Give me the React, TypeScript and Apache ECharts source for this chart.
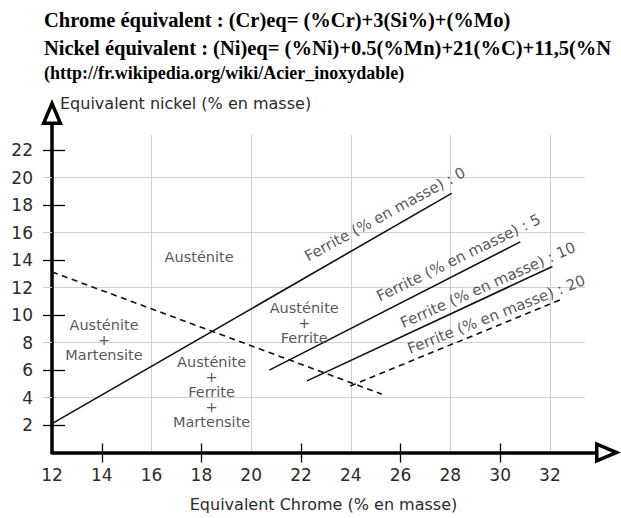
import React, { useEffect, useRef } from "react";
import * as echarts from "echarts";

// ---- Data ----
const titleLines = [
  "Chrome équivalent : (Cr)eq= (%Cr)+3(Si%)+(%Mo)",
  "Nickel équivalent : (Ni)eq= (%Ni)+0.5(%Mn)+21(%C)+11,5(%N",
  "(http://fr.wikipedia.org/wiki/Acier_inoxydable)",
];
const xAxisName = "Equivalent Chrome (% en masse)";
const yAxisName = "Equivalent nickel (% en masse)";

const xTickLabels = [12, 14, 16, 18, 20, 22, 24, 26, 28, 30, 32];
const yTickLabels = [2, 4, 6, 8, 10, 12, 14, 16, 18, 20, 22];
const xCrossTicks = [14, 18, 22, 26, 30];
const yCrossTicks = [2, 6, 10, 14, 18, 22];
const xGridValues = [16, 20, 24, 28, 32];
const yGridValues = [4, 8, 12, 16, 20];

const ferriteLevels = [0, 5, 10, 20];
const ferriteStartCr = [12, 20.73, 22.24, 23.98];
const ferriteStartNi = [2.1, 5.99, 5.21, 4.84];
const ferriteEndCr = [28.05, 30.81, 32.1, 32.48];
const ferriteEndNi = [18.85, 15.32, 13.53, 11.15];
const ferriteLabelCr = [22.2, 25.08, 26.03, 26.31];
const ferriteLabelNi = [14.2, 11.29, 9.37, 7.51];

const martensiteCr = [12, 25.25];
const martensiteNi = [13.13, 4.24];

const regionNames = [
  "Austénite",
  "Austénite\n+\nFerrite",
  "Austénite\n+\nMartensite",
  "Austénite\n+\nFerrite\n+\nMartensite",
];
const regionCr = [17.91, 22.13, 14.09, 18.41];
const regionNi = [14.2, 9.42, 8.2, 4.42];

// ---- Extents / styles ----
const X_MIN = 12;
const X_MAX = 33.81;
const Y_MIN = 0;
const Y_MAX = 23.82;
const GRID_X_END = 33.4;
const GRID_Y_END = 23.1;

const ferriteDashed = [false, false, false, true];
const ferriteLabelAngle = [28.5, 26, 24, 21.5];

const SANS = "DejaVu Sans";
const SERIF = "Liberation Serif";
const INK = "#111";
const TEXT = "#2a2a2a";
const GRID = "#cfcfcf";

const ARROW =
  "path://M11 0 L22 26 L0 26 Z M11 8.98 L5.28 22.5 L16.72 22.5 Z";

export default function App() {
  const ref = useRef<HTMLDivElement>(null);

  useEffect(() => {
    if (!ref.current) return;
    const chart = echarts.init(ref.current, null, { renderer: "svg" });

    const titleTops = [9, 37, 64];
    const titleSizes = [20.5, 20.5, 18];

    const lineSeries = ferriteLevels.map((lvl, i) => ({
      type: "line",
      name: `ferrite-${lvl}`,
      data: [
        [ferriteStartCr[i], ferriteStartNi[i]],
        [ferriteEndCr[i], ferriteEndNi[i]],
      ],
      showSymbol: false,
      symbol: "none",
      silent: true,
      z: 3,
      lineStyle: {
        color: INK,
        width: 1.6,
        type: ferriteDashed[i] ? [6, 4.5] : "solid",
      },
    }));

    const option: any = {
      animation: false,
      backgroundColor: "#fff",
      title: titleLines.map((t, i) => ({
        text: t,
        left: 44,
        top: titleTops[i],
        padding: 0,
        textStyle: {
          fontFamily: SERIF,
          fontWeight: "bold",
          fontSize: titleSizes[i],
          color: "#000",
        },
      })),
      grid: {
        left: 52,
        right: 26,
        top: 125,
        bottom: 65.5,
        containLabel: false,
        outerBoundsMode: "none",
      },
      xAxis: [
        {
          type: "value",
          min: X_MIN,
          max: X_MAX,
          position: "bottom",
          name: xAxisName,
          nameLocation: "middle",
          nameGap: 43,
          nameTextStyle: {
            fontFamily: SANS,
            fontSize: 16,
            color: TEXT,
            lineHeight: 18,
          },
          axisLine: {
            show: true,
            onZero: false,
            symbol: ["none", ARROW],
            symbolSize: [22, 26],
            symbolOffset: [0, 13],
            lineStyle: { color: "#000", width: 3.5 },
          },
          axisTick: {
            show: true,
            customValues: xCrossTicks,
            length: 10,
            lineStyle: { color: "#000", width: 1.3 },
          },
          axisLabel: {
            show: true,
            customValues: xTickLabels,
            fontFamily: SANS,
            fontSize: 17,
            color: TEXT,
            margin: 14,
          },
          splitLine: { show: false },
        },
        {
          type: "value",
          min: X_MIN,
          max: X_MAX,
          position: "bottom",
          axisLine: { show: false, onZero: false },
          axisTick: {
            show: true,
            inside: true,
            customValues: xCrossTicks,
            length: 9,
            lineStyle: { color: "#000", width: 1.3 },
          },
          axisLabel: { show: false },
          splitLine: { show: false },
        },
      ],
      yAxis: [
        {
          type: "value",
          min: Y_MIN,
          max: Y_MAX,
          position: "left",
          name: yAxisName,
          nameLocation: "end",
          nameGap: 13,
          nameTextStyle: {
            fontFamily: SANS,
            fontSize: 16,
            color: TEXT,
            align: "left",
            lineHeight: 18,
            padding: [0, 0, 0, 8],
          },
          axisLine: {
            show: true,
            onZero: false,
            symbol: ["none", ARROW],
            symbolSize: [22, 26],
            symbolOffset: [0, 13],
            lineStyle: { color: "#000", width: 3.5 },
          },
          axisTick: {
            show: true,
            customValues: yCrossTicks,
            length: 9,
            lineStyle: { color: "#000", width: 1.3 },
          },
          axisLabel: {
            show: true,
            customValues: yTickLabels,
            fontFamily: SANS,
            fontSize: 17,
            color: TEXT,
            margin: 19,
          },
          splitLine: { show: false },
        },
        {
          type: "value",
          min: Y_MIN,
          max: Y_MAX,
          position: "left",
          axisLine: { show: false, onZero: false },
          axisTick: {
            show: true,
            inside: true,
            customValues: yCrossTicks,
            length: 13,
            lineStyle: { color: "#000", width: 1.3 },
          },
          axisLabel: { show: false },
          splitLine: { show: false },
        },
        {
          type: "value",
          min: Y_MIN,
          max: Y_MAX,
          position: "left",
          axisLine: { show: false, onZero: false },
          axisTick: {
            show: true,
            customValues: yGridValues,
            length: 9,
            lineStyle: { color: GRID, width: 1 },
          },
          axisLabel: { show: false },
          splitLine: { show: false },
        },
      ],
      series: [
        {
          type: "line",
          name: "martensite",
          data: martensiteCr.map((c, i) => [c, martensiteNi[i]]),
          showSymbol: false,
          symbol: "none",
          silent: true,
          z: 3,
          lineStyle: { color: INK, width: 1.6, type: [6, 4.5] },
          markLine: {
            silent: true,
            symbol: ["none", "none"],
            z: 0,
            label: { show: false },
            lineStyle: { color: GRID, width: 1, type: "solid" },
            emphasis: { disabled: true },
            data: [
              ...yGridValues.map((v) => [
                { coord: [X_MIN, v] },
                { coord: [GRID_X_END, v] },
              ]),
              ...xGridValues.map((v) => [
                { coord: [v, Y_MIN] },
                { coord: [v, GRID_Y_END] },
              ]),
            ],
          },
        },
        ...lineSeries,
        {
          type: "scatter",
          name: "regions",
          symbolSize: 0,
          silent: true,
          z: 4,
          data: regionNames.map((n, i) => ({
            name: n,
            value: [regionCr[i], regionNi[i]],
          })),
          label: {
            show: true,
            position: "inside",
            formatter: "{b}",
            fontFamily: SANS,
            fontSize: 14.5,
            lineHeight: 15,
            color: TEXT,
            align: "center",
            verticalAlign: "middle",
          },
        },
        {
          type: "scatter",
          name: "ferrite-labels",
          symbolSize: 0,
          silent: true,
          z: 4,
          data: ferriteLevels.map((lvl, i) => ({
            name: `Ferrite (% en masse) : ${lvl}`,
            value: [ferriteLabelCr[i], ferriteLabelNi[i]],
            label: { rotate: ferriteLabelAngle[i] },
          })),
          label: {
            show: true,
            position: "inside",
            formatter: "{b}",
            fontFamily: SANS,
            fontSize: 15,
            color: TEXT,
            align: "left",
            verticalAlign: "middle",
          },
        },
      ],
    };

    chart.setOption(option);
    return () => chart.dispose();
  }, []);

  return (
    <div
      ref={ref}
      style={{ position: "fixed", left: 0, top: 0, width: 621, height: 518 }}
    />
  );
}
